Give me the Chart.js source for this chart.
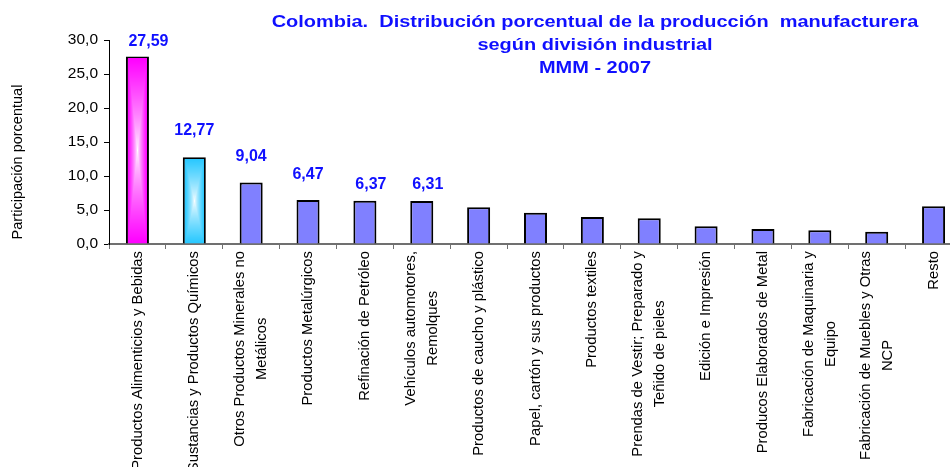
<!DOCTYPE html>
<html>
<head>
<meta charset="utf-8">
<script src="https://cdn.jsdelivr.net/npm/chart.js@4/dist/chart.umd.min.js"></script>
<style>
  html, body { margin: 0; padding: 0; background: #ffffff; overflow: hidden; width: 950px; height: 467px; }
  #wrap { position: absolute; left: 0; top: 0; width: 962px; height: 467px; }
</style>
</head>
<body>
<div id="wrap"><canvas id="c" width="962" height="467"></canvas></div>
<script>
// ---- data ----
const categories = [
  ["Productos Alimenticios y Bebidas"],
  ["Sustancias y Productos Químicos"],
  ["Otros Productos Minerales no", "Metálicos"],
  ["Productos Metalúrgicos"],
  ["Refinación de Petróleo"],
  ["Vehículos automotores,", "Remolques"],
  ["Productos de caucho y plástico"],
  ["Papel, cartón y sus productos"],
  ["Productos textiles"],
  ["Prendas de Vestir; Preparado y", "Teñido de pieles"],
  ["Edición e Impresión"],
  ["Producos Elaborados de Metal"],
  ["Fabricación de Maquinaria y", "Equipo"],
  ["Fabricación de Muebles y Otras", "NCP"],
  ["Resto"]
];
const participacion = [27.59, 12.77, 9.04, 6.47, 6.37, 6.31, 5.39, 4.61, 3.97, 3.78, 2.60, 2.21, 2.01, 1.81, 5.54];
const labeledBars = [0, 1, 2, 3, 4, 5];
const yTicks = [0, 5, 10, 15, 20, 25, 30];
const titleLines = ["Colombia.  Distribución porcentual de la producción  manufacturera", "según división industrial", "MMM - 2007"];
const yTitle = "Participación porcentual";

// ---- styles ----
const BLUE_TEXT = '#1010ff';
const BAR_FILL = '#8080ff';
const gradientEdges = { 0: [255, 0, 255], 1: [40, 200, 255] };
const labelDy = [15, 27, 26, 25, 16, 16];
const labelDx = [11, 0, 0, 0, 6, 6];
const FONT = '"Liberation Sans", Arial, sans-serif';

function fmt(v, d) { return v.toFixed(d).replace('.', ','); }

const barColors = participacion.map((v, i) => gradientEdges[i] ? 'rgb(' + gradientEdges[i].join(',') + ')' : BAR_FILL);

function paintCenterGradient(ctx, left, top, w, h, edge) {
  if (w <= 0 || h <= 0) return;
  const c = document.createElement('canvas');
  c.width = w; c.height = h;
  const g = c.getContext('2d');
  const img = g.createImageData(w, h);
  const hw = w / 2, hh = h / 2;
  for (let y = 0; y < h; y++) {
    for (let x = 0; x < w; x++) {
      const t = Math.min(1, Math.max(Math.abs(x + 0.5 - hw) / hw, Math.abs(y + 0.5 - hh) / hh));
      const f = Math.pow(t, 0.75);
      const k = (y * w + x) * 4;
      img.data[k] = Math.round(255 + (edge[0] - 255) * f);
      img.data[k + 1] = Math.round(255 + (edge[1] - 255) * f);
      img.data[k + 2] = Math.round(255 + (edge[2] - 255) * f);
      img.data[k + 3] = 255;
    }
  }
  g.putImageData(img, 0, 0);
  ctx.drawImage(c, left, top);
}

const decorPlugin = {
  id: 'decor',
  afterDatasetsDraw(chart) {
    const ctx = chart.ctx;
    const meta = chart.getDatasetMeta(0);
    const bw = chart.data.datasets[0].borderWidth;
    // gradient fills
    Object.keys(gradientEdges).forEach(k => {
      const el = meta.data[+k];
      if (!el) return;
      const left = Math.round(el.x - el.width / 2 + bw);
      const right = Math.round(el.x + el.width / 2 - bw);
      const top = Math.round(el.y + bw);
      const bottom = Math.round(el.base - bw / 2);
      paintCenterGradient(ctx, left, top, right - left, bottom - top, gradientEdges[k]);
    });
    // value labels
    ctx.save();
    ctx.fillStyle = BLUE_TEXT;
    ctx.font = 'bold 16px ' + FONT;
    ctx.textAlign = 'center';
    ctx.textBaseline = 'middle';
    labeledBars.forEach((i, j) => {
      const el = meta.data[i];
      ctx.fillText(fmt(participacion[i], 2), el.x + labelDx[j], el.y - labelDy[j]);
    });
    ctx.restore();
  },
  afterDraw(chart) {
    const ctx = chart.ctx;
    const xs = chart.scales.x;
    const area = chart.chartArea;
    // x category labels (rotated)
    ctx.save();
    ctx.fillStyle = '#000';
    ctx.font = '14.8px ' + FONT;
    ctx.textBaseline = 'middle';
    ctx.textAlign = 'center';
    const lineH = 22;
    categories.forEach((lines, i) => {
      const x = xs.getPixelForValue(i);
      const W = Math.max(...lines.map(s => ctx.measureText(s).width));
      ctx.save();
      ctx.translate(x, area.bottom + 7);
      ctx.rotate(-Math.PI / 2);
      lines.forEach((s, j) => {
        ctx.fillText(s, -W / 2, (j - (lines.length - 1) / 2) * lineH);
      });
      ctx.restore();
    });
    // y axis title
    ctx.save();
    ctx.font = '14.5px ' + FONT;
    ctx.translate(18, 162);
    ctx.rotate(-Math.PI / 2);
    ctx.fillText(yTitle, 0, 0);
    ctx.restore();
    // chart title (text is horizontally widened like the original)
    ctx.fillStyle = BLUE_TEXT;
    ctx.font = 'bold 16.5px ' + FONT;
    titleLines.forEach((s, j) => {
      ctx.save();
      ctx.translate(595, 22 + j * 23);
      ctx.scale(1.21, 1);
      ctx.fillText(s, 0, 0);
      ctx.restore();
    });
    ctx.restore();
  }
};

new Chart(document.getElementById('c'), {
  type: 'bar',
  data: {
    labels: categories,
    datasets: [{
      data: participacion,
      backgroundColor: barColors,
      borderColor: '#000000',
      borderWidth: 2,
      barPercentage: 0.405,
      categoryPercentage: 1
    }]
  },
  options: {
    responsive: false,
    animation: false,
    events: [],
    layout: { padding: { top: 40, left: 0, right: 0, bottom: 0 } },
    plugins: { legend: { display: false }, tooltip: { enabled: false }, title: { display: false } },
    scales: {
      x: {
        offset: true,
        ticks: { display: false },
        grid: { display: true, drawOnChartArea: false, drawTicks: true, tickLength: 5, color: '#707070', lineWidth: 1, offset: true },
        border: { display: true, color: '#707070', width: 2 },
        afterFit(s) { s.height = 223; }
      },
      y: {
        min: 0, max: 30,
        afterBuildTicks(s) { s.ticks = yTicks.map(v => ({ value: v })); },
        ticks: {
          color: '#000',
          font: { family: FONT, size: 15.5 },
          padding: 6,
          callback: v => fmt(v, 1)
        },
        grid: { display: true, drawOnChartArea: false, drawTicks: true, tickLength: 5, color: '#000', lineWidth: 1 },
        border: { display: true, color: '#000', width: 1 },
        afterFit(s) { s.width = 109; }
      }
    }
  },
  plugins: [decorPlugin]
});
</script>
</body>
</html>
